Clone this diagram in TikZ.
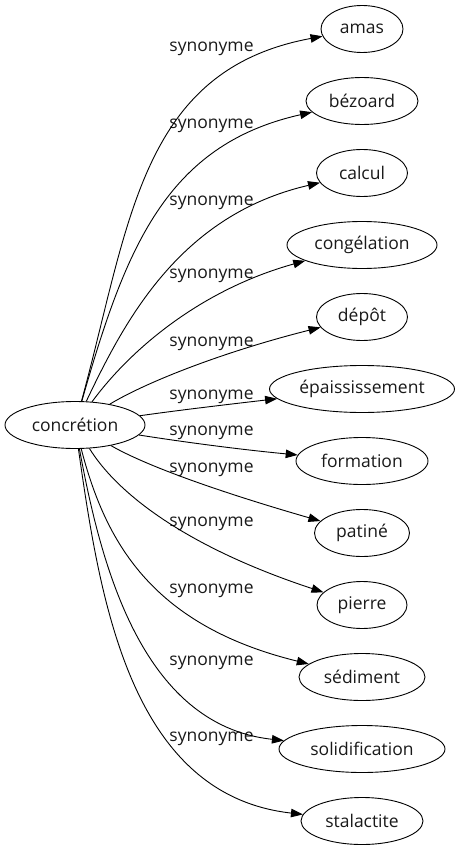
\documentclass[tikz,border=0pt]{standalone}
\usepackage{fontspec}
\setmainfont{Open Sans}
\usetikzlibrary{shapes.geometric,arrows.meta}
\begin{document}
\begin{tikzpicture}[x=1pt,y=-1pt,
  every node/.style={font=\fontsize{17.5}{20}\selectfont, text=black!90},
  term/.style={draw, ellipse, line width=0.9pt, minimum height=47pt, inner sep=0pt},
  lbl/.style={anchor=base, inner sep=0pt},
  syn/.style={draw, line width=0.9pt, -{Triangle[length=12pt,width=8.5pt]}}]
\useasboundingbox (0,0) rectangle (460,851);
\node[term, minimum width=140pt] (c) at (75,425) {concrétion};
\node[term, minimum width=82pt]  (n1)  at (362,29)  {amas};
\node[term, minimum width=112pt] (n2)  at (362,101) {bézoard};
\node[term, minimum width=91pt]  (n3)  at (362,173) {calcul};
\node[term, minimum width=150pt] (n4)  at (362,245) {congélation};
\node[term, minimum width=91pt]  (n5)  at (362,317) {dépôt};
\node[term, minimum width=185pt] (n6)  at (362,389) {épaississement};
\node[term, minimum width=132pt] (n7)  at (362,461) {formation};
\node[term, minimum width=95pt]  (n8)  at (362,533) {patiné};
\node[term, minimum width=90pt]  (n9)  at (362,605) {pierre};
\node[term, minimum width=126pt] (n10) at (362,677) {sédiment};
\node[term, minimum width=166pt] (n11) at (362,749) {solidification};
\node[term, minimum width=122pt] (n12) at (362,821) {stalactite};
\node[lbl] (l1)  at (211.5,52)  {synonyme};
\node[lbl] (l2)  at (211.5,128) {synonyme};
\node[lbl] (l3)  at (211.5,205) {synonyme};
\node[lbl] (l4)  at (211.5,278) {synonyme};
\node[lbl] (l5)  at (211.5,346) {synonyme};
\node[lbl] (l6)  at (211.5,399) {synonyme};
\node[lbl] (l7)  at (211.5,435) {synonyme};
\node[lbl] (l8)  at (211.5,472) {synonyme};
\node[lbl] (l9)  at (211.5,526) {synonyme};
\node[lbl] (l10) at (211.5,593) {synonyme};
\node[lbl] (l11) at (211.5,665) {synonyme};
\node[lbl] (l12) at (211.5,741) {synonyme};
\draw[syn] (c) .. controls (130,223) and (140,70) .. (n1);
\draw[syn] (c) .. controls (125,250) and (165,145) .. (n2);
\draw[syn] (c) .. controls (125,320) and (180,215) .. (n3);
\draw[syn] (c) .. controls (130,350) and (200,290) .. (n4);
\draw[syn] (c) .. controls (150,380) and (230,350) .. (n5);
\draw[syn] (c) .. controls (180,410) and (240,403) .. (n6);
\draw[syn] (c) .. controls (190,443) and (245,450) .. (n7);
\draw[syn] (c) .. controls (150,468) and (230,495) .. (n8);
\draw[syn] (c) .. controls (115,490) and (180,545) .. (n9);
\draw[syn] (c) .. controls (105,540) and (150,625) .. (n10);
\draw[syn] (c) .. controls (100,560) and (140,725) .. (n11);
\draw[syn] (c) .. controls (100,600) and (130,795) .. (n12);
\end{tikzpicture}
\end{document}
